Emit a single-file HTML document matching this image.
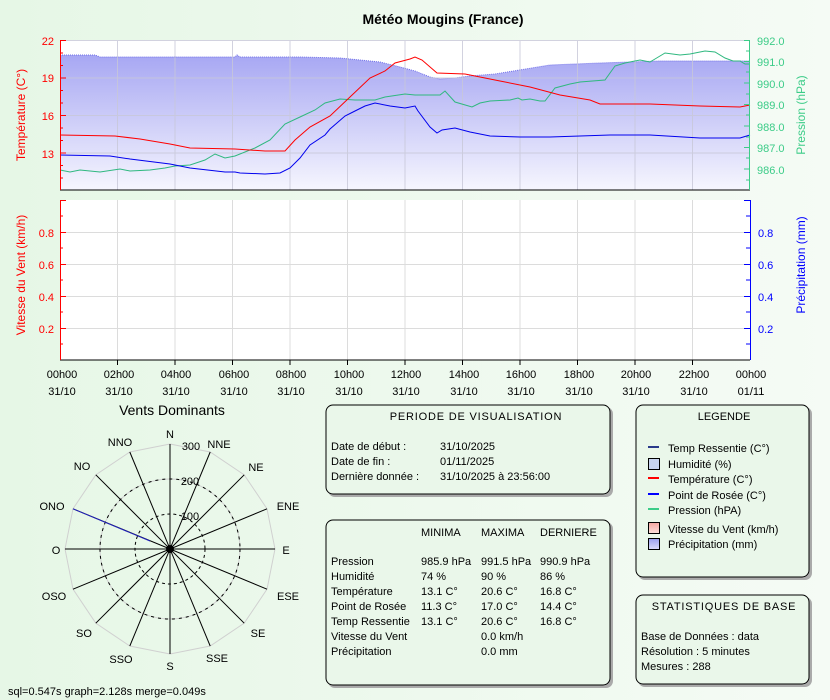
<!DOCTYPE html>
<html><head><meta charset="utf-8"><style>
body{margin:0;width:830px;height:700px;overflow:hidden;background:linear-gradient(to right,#e6f7e6,#f5fbf5);font-family:"Liberation Sans",sans-serif}
svg{display:block}
text{font-family:"Liberation Sans",sans-serif}
</style></head><body>
<svg width="830" height="700" xmlns="http://www.w3.org/2000/svg">
<defs>
<linearGradient id="hum" x1="0" y1="0" x2="0" y2="1"><stop offset="0" stop-color="#a7a7f3"/><stop offset="1" stop-color="#f6f6fe"/></linearGradient>
<linearGradient id="lg1" x1="0" y1="0" x2="0" y2="1"><stop offset="0" stop-color="#f3a6a0"/><stop offset="1" stop-color="#fde0dc"/></linearGradient>
<linearGradient id="lg2" x1="0" y1="0" x2="0" y2="1"><stop offset="0" stop-color="#9a9ef0"/><stop offset="1" stop-color="#dcdcfb"/></linearGradient>
</defs>
<text x="443" y="24" font-size="14" font-weight="bold" text-anchor="middle">Météo Mougins (France)</text>

<!-- top chart -->
<rect x="60" y="40" width="690" height="150" fill="#fff"/>
<path d="M60,55 L95,55 L100,57 L108,57 L235,57 L237,55 L240,57 L300,57 L340,58 L380,62 L400,67 L415,71 L430,77 L440,79 L455,78 L470,76 L495,74 L550,65 L600,63 L660,61 L750,61 L750,190 L60,190Z" fill="url(#hum)"/>
<path d="M60,55 L95,55 L100,57 L108,57 L235,57 L237,55 L240,57 L300,57 L340,58 L380,62 L400,67 L415,71 L430,77 L440,79 L455,78 L470,76 L495,74 L550,65 L600,63 L660,61 L750,61" fill="none" stroke="#7070e8" stroke-width="1" stroke-dasharray="1,1"/>
<g stroke="#c8c8d8" stroke-width="1" opacity="0.8">
<line x1="117.5" y1="40" x2="117.5" y2="190"/><line x1="175" y1="40" x2="175" y2="190"/><line x1="232.5" y1="40" x2="232.5" y2="190"/><line x1="290" y1="40" x2="290" y2="190"/><line x1="347.5" y1="40" x2="347.5" y2="190"/><line x1="405" y1="40" x2="405" y2="190"/><line x1="462.5" y1="40" x2="462.5" y2="190"/><line x1="520" y1="40" x2="520" y2="190"/><line x1="577.5" y1="40" x2="577.5" y2="190"/><line x1="635" y1="40" x2="635" y2="190"/><line x1="692.5" y1="40" x2="692.5" y2="190"/>
<line x1="60" y1="40.5" x2="750" y2="40.5"/><line x1="60" y1="78" x2="750" y2="78"/><line x1="60" y1="115.5" x2="750" y2="115.5"/><line x1="60" y1="153" x2="750" y2="153"/>
</g>
<polyline fill="none" stroke="#2fb87f" stroke-width="1" points="60,170 70,172 80,170 100,172 120,169 130,171 150,170 165,168 175,166 190,165 205,160 215,154 225,158 235,156 255,148 270,140 285,124 300,117 315,110 325,103 340,99 355,100 375,100 385,97 405,94 415,95 440,95 445,91 455,102 472,107 480,103 490,101 510,100 518,98 522,100 530,99 540,101 545,101 555,88 570,84 580,82 605,80 615,66 625,63 640,60 650,62 655,59 665,53 680,55 690,54 700,52 705,51 715,52 725,58 733,61 740,61 745,64 750,64"/>
<polyline fill="none" stroke="#ff0000" stroke-width="1" points="60,135 115,136 140,139 170,144 190,148 235,149 265,151 285,151 295,140 310,127 330,116 350,97 370,78 385,71 395,63 410,59 415,57 422,60 437,73 465,74 500,81 530,87 560,95 590,100 600,104 650,104 700,106 740,107 750,105"/>
<polyline fill="none" stroke="#0000ee" stroke-width="1" points="60,155 110,156 130,159 170,164 190,168 225,172 235,172 240,173 265,174 280,173 290,168 300,158 310,145 325,135 330,129 345,116 355,111 365,106 375,103 390,106 405,108 415,106 418,111 430,127 437,133 442,130 455,128 470,132 490,136 520,137 550,137 610,135 650,135 700,138 740,138 750,135"/>
<line x1="60" y1="190" x2="750" y2="190" stroke="#000"/>
<g stroke="#ff0000"><line x1="60.5" y1="40" x2="60.5" y2="190"/>
<line x1="60" y1="40.5" x2="66" y2="40.5"/><line x1="60" y1="78" x2="66" y2="78"/><line x1="60" y1="115.5" x2="66" y2="115.5"/><line x1="60" y1="153" x2="66" y2="153"/>
<line x1="60" y1="53" x2="63" y2="53"/><line x1="60" y1="65.5" x2="63" y2="65.5"/><line x1="60" y1="90.5" x2="63" y2="90.5"/><line x1="60" y1="103" x2="63" y2="103"/><line x1="60" y1="128" x2="63" y2="128"/><line x1="60" y1="140.5" x2="63" y2="140.5"/><line x1="60" y1="165.5" x2="63" y2="165.5"/><line x1="60" y1="178" x2="63" y2="178"/></g>
<g fill="#ff0000" font-size="11" text-anchor="end"><text x="54" y="45">22</text><text x="54" y="82">19</text><text x="54" y="120">16</text><text x="54" y="158">13</text></g>
<text transform="translate(25,115) rotate(-90)" fill="#ff0000" font-size="12" text-anchor="middle">Température (C°)</text>
<g stroke="#3ccc88"><line x1="749.5" y1="40" x2="749.5" y2="190"/>
<line x1="744" y1="40.5" x2="750" y2="40.5"/><line x1="744" y1="61.5" x2="750" y2="61.5"/><line x1="744" y1="83" x2="750" y2="83"/><line x1="744" y1="104.5" x2="750" y2="104.5"/><line x1="744" y1="126" x2="750" y2="126"/><line x1="744" y1="147.5" x2="750" y2="147.5"/><line x1="744" y1="169" x2="750" y2="169"/>
<line x1="746" y1="51" x2="750" y2="51"/><line x1="746" y1="72" x2="750" y2="72"/><line x1="746" y1="94" x2="750" y2="94"/><line x1="746" y1="115" x2="750" y2="115"/><line x1="746" y1="137" x2="750" y2="137"/><line x1="746" y1="158" x2="750" y2="158"/><line x1="746" y1="180" x2="750" y2="180"/></g>
<g fill="#3ccc88" font-size="11"><text x="757" y="45">992.0</text><text x="757" y="66">991.0</text><text x="757" y="88">990.0</text><text x="757" y="109">989.0</text><text x="757" y="131">988.0</text><text x="757" y="152">987.0</text><text x="757" y="174">986.0</text></g>
<text transform="translate(805,115) rotate(-90)" fill="#3ccc88" font-size="12" text-anchor="middle">Pression (hPa)</text>

<!-- wind chart -->
<rect x="60" y="200" width="690" height="160" fill="#fff"/>
<g stroke="#dcdcdc">
<line x1="117.5" y1="200" x2="117.5" y2="360"/><line x1="175" y1="200" x2="175" y2="360"/><line x1="232.5" y1="200" x2="232.5" y2="360"/><line x1="290" y1="200" x2="290" y2="360"/><line x1="347.5" y1="200" x2="347.5" y2="360"/><line x1="405" y1="200" x2="405" y2="360"/><line x1="462.5" y1="200" x2="462.5" y2="360"/><line x1="520" y1="200" x2="520" y2="360"/><line x1="577.5" y1="200" x2="577.5" y2="360"/><line x1="635" y1="200" x2="635" y2="360"/><line x1="692.5" y1="200" x2="692.5" y2="360"/>
<line x1="60" y1="232.5" x2="750" y2="232.5"/><line x1="60" y1="264.5" x2="750" y2="264.5"/><line x1="60" y1="296.5" x2="750" y2="296.5"/><line x1="60" y1="328.5" x2="750" y2="328.5"/>
</g>
<line x1="60" y1="360" x2="750" y2="360" stroke="#000"/>
<g stroke="#000"><line x1="117.5" y1="360" x2="117.5" y2="365"/><line x1="175" y1="360" x2="175" y2="365"/><line x1="232.5" y1="360" x2="232.5" y2="365"/><line x1="290" y1="360" x2="290" y2="365"/><line x1="347.5" y1="360" x2="347.5" y2="365"/><line x1="405" y1="360" x2="405" y2="365"/><line x1="462.5" y1="360" x2="462.5" y2="365"/><line x1="520" y1="360" x2="520" y2="365"/><line x1="577.5" y1="360" x2="577.5" y2="365"/><line x1="635" y1="360" x2="635" y2="365"/><line x1="692.5" y1="360" x2="692.5" y2="365"/></g>
<g stroke="#ff0000"><line x1="60.5" y1="200" x2="60.5" y2="360"/>
<line x1="60" y1="200.5" x2="66" y2="200.5"/><line x1="60" y1="216" x2="63" y2="216"/><line x1="60" y1="232.5" x2="66" y2="232.5"/><line x1="60" y1="248" x2="63" y2="248"/><line x1="60" y1="264.5" x2="66" y2="264.5"/><line x1="60" y1="280" x2="63" y2="280"/><line x1="60" y1="296.5" x2="66" y2="296.5"/><line x1="60" y1="312" x2="63" y2="312"/><line x1="60" y1="328.5" x2="66" y2="328.5"/><line x1="60" y1="344" x2="63" y2="344"/></g>
<g fill="#ff0000" font-size="11" text-anchor="end"><text x="54" y="237">0.8</text><text x="54" y="269">0.6</text><text x="54" y="301">0.4</text><text x="54" y="333">0.2</text></g>
<text transform="translate(25,275) rotate(-90)" fill="#ff0000" font-size="12" text-anchor="middle">Vitesse du Vent (km/h)</text>
<g stroke="#0000ff"><line x1="750.5" y1="200" x2="750.5" y2="360"/>
<line x1="744" y1="200.5" x2="750" y2="200.5"/><line x1="746" y1="216" x2="750" y2="216"/><line x1="744" y1="232.5" x2="750" y2="232.5"/><line x1="746" y1="248" x2="750" y2="248"/><line x1="744" y1="264.5" x2="750" y2="264.5"/><line x1="746" y1="280" x2="750" y2="280"/><line x1="744" y1="296.5" x2="750" y2="296.5"/><line x1="746" y1="312" x2="750" y2="312"/><line x1="744" y1="328.5" x2="750" y2="328.5"/><line x1="746" y1="344" x2="750" y2="344"/></g>
<g fill="#0000ff" font-size="11"><text x="758" y="237">0.8</text><text x="758" y="269">0.6</text><text x="758" y="301">0.4</text><text x="758" y="333">0.2</text></g>
<text transform="translate(805,265) rotate(-90)" fill="#0000ff" font-size="12" text-anchor="middle">Précipitation (mm)</text>
<g font-size="11" text-anchor="middle" fill="#000">
<text x="62" y="378">00h00</text><text x="62" y="395">31/10</text>
<text x="119" y="378">02h00</text><text x="119" y="395">31/10</text>
<text x="176" y="378">04h00</text><text x="176" y="395">31/10</text>
<text x="234" y="378">06h00</text><text x="234" y="395">31/10</text>
<text x="291" y="378">08h00</text><text x="291" y="395">31/10</text>
<text x="349" y="378">10h00</text><text x="349" y="395">31/10</text>
<text x="406" y="378">12h00</text><text x="406" y="395">31/10</text>
<text x="464" y="378">14h00</text><text x="464" y="395">31/10</text>
<text x="521" y="378">16h00</text><text x="521" y="395">31/10</text>
<text x="579" y="378">18h00</text><text x="579" y="395">31/10</text>
<text x="636" y="378">20h00</text><text x="636" y="395">31/10</text>
<text x="694" y="378">22h00</text><text x="694" y="395">31/10</text>
<text x="751" y="378">00h00</text><text x="751" y="395">01/11</text>
</g>

<!-- wind rose -->
<text x="172" y="415" font-size="14" text-anchor="middle">Vents Dominants</text>
<polygon fill="none" stroke="#d0d0d0" points="170,444 210.2,452 244.2,474.8 267,508.8 275,549 267,589.2 244.2,623.2 210.2,646 170,654 129.8,646 95.8,623.2 73,589.2 65,549 73,508.8 95.8,474.8 129.8,452"/>
<circle cx="170" cy="549" r="70" fill="none" stroke="#d0d0d0"/>
<circle cx="170" cy="549" r="70" fill="none" stroke="#000" stroke-dasharray="3,4"/>
<circle cx="170" cy="549" r="35" fill="none" stroke="#000" stroke-dasharray="3,3"/>
<g stroke="#000"><line x1="170" y1="444" x2="170" y2="654"/><line x1="210.2" y1="452" x2="129.8" y2="646"/><line x1="244.2" y1="474.8" x2="95.8" y2="623.2"/><line x1="267" y1="508.8" x2="73" y2="589.2"/><line x1="275" y1="549" x2="65" y2="549"/><line x1="267" y1="589.2" x2="73" y2="508.8"/><line x1="244.2" y1="623.2" x2="95.8" y2="474.8"/><line x1="210.2" y1="646" x2="129.8" y2="452"/></g>
<line x1="73" y1="508.8" x2="150" y2="541" stroke="#2020c0"/>
<circle cx="170" cy="549" r="4" fill="#000"/>
<g font-size="11" text-anchor="middle" fill="#000">
<text x="170" y="438">N</text><text x="219" y="448">NNE</text><text x="256" y="471">NE</text><text x="288" y="510">ENE</text><text x="286" y="554">E</text><text x="288" y="600">ESE</text><text x="258" y="637">SE</text><text x="217" y="662">SSE</text><text x="170" y="670">S</text><text x="121" y="663">SSO</text><text x="84" y="637">SO</text><text x="54" y="600">OSO</text><text x="56" y="554">O</text><text x="52" y="510">ONO</text><text x="82" y="470">NO</text><text x="120" y="446">NNO</text>
<text x="191" y="450">300</text><text x="190" y="485">200</text><text x="190" y="520">100</text>
</g>
<text x="8" y="695" font-size="11">sql=0.547s graph=2.128s merge=0.049s</text>

<!-- boxes -->
<g stroke="#000" stroke-width="1">
<rect x="328" y="407" width="285" height="90" rx="7" fill="#aaa" stroke="none"/>
<rect x="326" y="405" width="284" height="89" rx="7" fill="#eaf7ea"/>
<rect x="328" y="522" width="285" height="166" rx="7" fill="#aaa" stroke="none"/>
<rect x="326" y="520" width="284" height="165" rx="7" fill="#eaf7ea"/>
<rect x="638" y="407" width="174" height="173" rx="7" fill="#aaa" stroke="none"/>
<rect x="636" y="405" width="173" height="172" rx="7" fill="#eaf7ea"/>
<rect x="638" y="597" width="174" height="90" rx="7" fill="#aaa" stroke="none"/>
<rect x="636" y="595" width="173" height="89" rx="7" fill="#eaf7ea"/>
</g>
<g font-size="11" fill="#000">
<text x="476" y="420" text-anchor="middle" letter-spacing="0.8">PERIODE DE VISUALISATION</text>
<text x="331" y="450">Date de début :</text><text x="440" y="450">31/10/2025</text>
<text x="331" y="465">Date de fin :</text><text x="440" y="465">01/11/2025</text>
<text x="331" y="480">Dernière donnée :</text><text x="440" y="480">31/10/2025 à 23:56:00</text>
<text x="421" y="536">MINIMA</text><text x="481" y="536">MAXIMA</text><text x="540" y="536">DERNIERE</text>
<text x="331" y="565">Pression</text><text x="421" y="565">985.9 hPa</text><text x="481" y="565">991.5 hPa</text><text x="540" y="565">990.9 hPa</text>
<text x="331" y="580">Humidité</text><text x="421" y="580">74 %</text><text x="481" y="580">90 %</text><text x="540" y="580">86 %</text>
<text x="331" y="595">Température</text><text x="421" y="595">13.1 C°</text><text x="481" y="595">20.6 C°</text><text x="540" y="595">16.8 C°</text>
<text x="331" y="610">Point de Rosée</text><text x="421" y="610">11.3 C°</text><text x="481" y="610">17.0 C°</text><text x="540" y="610">14.4 C°</text>
<text x="331" y="625">Temp Ressentie</text><text x="421" y="625">13.1 C°</text><text x="481" y="625">20.6 C°</text><text x="540" y="625">16.8 C°</text>
<text x="331" y="640">Vitesse du Vent</text><text x="481" y="640">0.0 km/h</text>
<text x="331" y="655">Précipitation</text><text x="481" y="655">0.0 mm</text>
<text x="724" y="420" text-anchor="middle">LEGENDE</text>
<text x="668" y="452">Temp Ressentie (C°)</text>
<text x="668" y="468">Humidité (%)</text>
<text x="668" y="483">Température (C°)</text>
<text x="668" y="499">Point de Rosée (C°)</text>
<text x="668" y="514">Pression (hPA)</text>
<text x="668" y="533">Vitesse du Vent (km/h)</text>
<text x="668" y="548">Précipitation (mm)</text>
<text x="724" y="610" text-anchor="middle" letter-spacing="0.8">STATISTIQUES DE BASE</text>
<text x="641" y="640">Base de Données : data</text>
<text x="641" y="655">Résolution : 5 minutes</text>
<text x="641" y="670">Mesures : 288</text>
</g>
<g stroke-width="2"><line x1="648" y1="447" x2="659" y2="447" stroke="#2a3a8a"/><line x1="648" y1="478" x2="659" y2="478" stroke="#ff0000"/><line x1="648" y1="494" x2="659" y2="494" stroke="#0000ff"/><line x1="648" y1="509" x2="659" y2="509" stroke="#3ccc88"/></g>
<rect x="648.5" y="458.5" width="11" height="11" fill="#c8d4f0" stroke="#000"/>
<rect x="648.5" y="522.5" width="11" height="11" fill="url(#lg1)" stroke="#000"/>
<rect x="648.5" y="538.5" width="11" height="11" fill="url(#lg2)" stroke="#000"/>
</svg>
</body></html>
